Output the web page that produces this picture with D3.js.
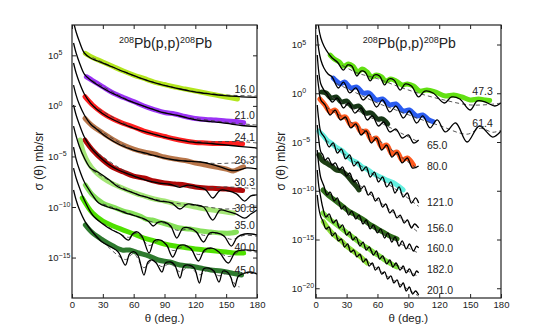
<!DOCTYPE html>
<html>
<head>
<meta charset="utf-8">
<script src="https://cdn.jsdelivr.net/npm/d3@7"></script>
<style>
  body { margin: 0; background: #fff; }
  text { font-family: "Liberation Sans", Arial, sans-serif; fill: #222; }
</style>
</head>
<body>
<div id="viz"></div>
<script>
// values are [theta (deg), log10(sigma)]

// ---- left panel: 16.0 ... 45.0 MeV
var leftLabels = ["16.0", "21.0", "24.1", "26.3", "30.3", "30.8", "35.0", "40.0", "45.0"];
var leftColors = ["#b3e61e", "#9b33f5", "#ff1f1f", "#b8764a", "#b00808", "#a4e676", "#86e05a", "#4fe000", "#2e7a2e"];
var leftLabelLog = [1.67, -0.90, -3.08, -5.35, -7.53, -10.10, -11.78, -13.96, -16.23];

var leftTheory = [
  [[1.5,8.29],[4,7.31],[7,6.42],[12,5.23],[18,4.73],[25,4.44],[35,4.04],[45,3.60],[55,3.20],[65,2.80],[75,2.46],[85,2.16],[95,1.90],[105,1.67],[115,1.47],[125,1.30],[135,1.17],[145,1.04],[155,0.96],[165,0.90],[180,0.85]],
  [[1.5,6.22],[4,5.23],[7,4.34],[12,3.15],[18,2.56],[25,2.06],[35,1.47],[45,0.98],[55,0.53],[65,0.14],[75,-0.21],[85,-0.56],[95,-0.80],[105,-1.00],[115,-1.25],[125,-1.45],[135,-1.55],[145,-1.65],[155,-1.79],[165,-1.94],[180,-2.06]],
  [[1.5,4.24],[4,3.25],[7,2.36],[12,1.17],[18,0.28],[25,-0.41],[35,-1.10],[47,-1.69],[60,-2.19],[75,-2.68],[90,-3.08],[105,-3.38],[120,-3.62],[135,-3.72],[150,-3.87],[165,-4.02],[180,-4.17]],
  [[1.5,2.06],[4,1.07],[7,0.18],[12,-0.90],[18,-1.79],[25,-2.39],[35,-3.18],[47,-3.87],[60,-4.37],[75,-4.76],[90,-5.16],[100,-5.35],[110,-5.45],[125,-5.55],[135,-5.75],[145,-6.05],[153,-6.34],[160,-6.39],[170,-6.14],[180,-6.24]],
  [[1.5,0.09],[4,-0.90],[7,-1.79],[12,-3.08],[18,-4.07],[25,-4.86],[35,-5.75],[45,-6.34],[55,-6.74],[65,-7.13],[75,-7.43],[85,-7.63],[95,-7.75],[105,-8.05],[113,-7.83],[122,-8.0],[130,-8.3],[137,-9.11],[144,-8.35],[152,-8.4],[160,-8.7],[168,-9.41],[174,-8.9],[180,-8.81]],
  [[1.5,-2.00],[4,-2.98],[7,-3.97],[12,-5.16],[18,-6.15],[25,-6.54],[35,-7.23],[45,-8.02],[55,-8.42],[65,-8.82],[75,-9.11],[85,-9.41],[97,-9.61],[105,-10.20],[112,-9.71],[120,-9.80],[128,-10.0],[137,-11.29],[144,-10.30],[152,-10.45],[160,-10.70],[168,-11.1],[174,-10.7],[180,-10.3]],
  [[1.5,-4.07],[4,-5.26],[7,-6.25],[12,-7.53],[18,-8.52],[26,-9.61],[35,-10.0],[45,-10.30],[55,-10.69],[62,-10.89],[68,-11.09],[74,-11.39],[79,-11.88],[84,-11.49],[90,-11.49],[96,-11.88],[102,-13.07],[108,-12.08],[115,-12.08],[121,-12.47],[128,-13.46],[134,-12.57],[141,-12.57],[148,-12.87],[155,-13.86],[161,-12.97],[168,-12.67],[175,-12.67],[180,-12.77]],
  [[1.5,-6.15],[4,-7.13],[7,-8.02],[12,-9.31],[20,-10.79],[30,-11.68],[39,-12.28],[47,-12.67],[55,-13.27],[59,-12.67],[63,-12.45],[68,-12.87],[75,-14.55],[80,-13.36],[86,-13.27],[92,-13.76],[98,-14.95],[104,-13.86],[110,-13.76],[116,-14.16],[123,-15.34],[129,-14.26],[136,-14.06],[143,-14.45],[152,-15.54],[159,-14.45],[166,-14.26],[173,-14.26],[180,-14.35]],
  [[1.5,-8.32],[4,-9.31],[7,-10.20],[13,-11.49],[20,-12.47],[29,-13.43],[38,-13.96],[45,-14.45],[52,-15.74],[56,-14.65],[60,-14.42],[64,-14.75],[70,-16.73],[74,-15.44],[78,-15.24],[82,-15.54],[87.5,-16.43],[91,-15.54],[96,-15.44],[100,-15.74],[105,-17.02],[109,-15.84],[114,-15.74],[119,-16.04],[124,-17.52],[128,-16.13],[133,-16.04],[138,-16.33],[143,-17.42],[147,-16.33],[151,-16.43],[154,-16.83],[158,-17.91],[162,-16.83],[168,-16.53],[174,-16.43],[180,-16.63]]
];

var leftExp = [
  [[13,5.20],[20,4.78],[30,4.34],[40,3.89],[50,3.45],[60,3.05],[70,2.71],[80,2.36],[90,2.11],[100,1.87],[110,1.67],[120,1.47],[130,1.27],[140,1.07],[150,0.88],[161,0.68]],
  [[14,2.88],[20,2.51],[30,1.87],[40,1.27],[50,0.83],[60,0.43],[70,-0.01],[80,-0.36],[90,-0.66],[100,-0.80],[110,-1.05],[120,-1.25],[130,-1.35],[140,-1.40],[150,-1.50],[160,-1.55],[167,-1.66]],
  [[12.6,0.91],[20,0.09],[30,-0.71],[40,-1.30],[50,-1.74],[60,-2.09],[70,-2.49],[80,-2.78],[90,-3.03],[100,-3.28],[110,-3.47],[120,-3.62],[130,-3.67],[140,-3.72],[150,-3.72],[160,-3.72],[166,-3.77]],
  [[12.6,-1.23],[20,-1.99],[30,-2.68],[40,-3.33],[50,-3.87],[60,-4.27],[70,-4.56],[80,-4.76],[90,-5.06],[100,-5.26],[110,-5.40],[120,-5.65],[130,-5.85],[140,-6.05],[150,-6.24],[157,-6.44],[163,-6.19],[167,-6.02]],
  [[12.6,-3.38],[20,-4.37],[30,-5.35],[40,-6.10],[50,-6.54],[60,-6.94],[70,-7.13],[80,-7.43],[90,-7.63],[100,-7.73],[110,-7.83],[120,-8.02],[130,-8.12],[140,-8.17],[150,-8.22],[160,-8.32],[166,-8.37]],
  [[8,-3.38],[11,-4.56],[16,-5.65],[22,-6.44],[30,-7.13],[40,-7.73],[50,-8.17],[60,-8.57],[70,-8.91],[80,-9.21],[90,-9.41],[100,-9.66],[110,-9.80],[120,-10.00],[130,-10.20],[140,-10.35],[150,-10.50],[157,-10.60]],
  [[13,-7.83],[20,-8.82],[30,-9.61],[40,-10.0],[50,-10.40],[58,-10.60],[66,-10.89],[72,-11.19],[78,-11.29],[85,-11.49],[95,-11.78],[105,-12.08],[115,-12.18],[125,-12.38],[135,-12.47],[145,-12.57],[155,-12.57],[160,-12.47]],
  [[10,-9.11],[20,-10.60],[30,-11.39],[40,-11.88],[50,-12.28],[60,-12.67],[70,-13.07],[80,-13.36],[90,-13.66],[100,-13.86],[110,-14.01],[120,-14.16],[130,-14.26],[140,-14.35],[150,-14.45],[160,-14.55],[167,-14.55]],
  [[13,-11.78],[20,-12.57],[30,-13.27],[40,-13.86],[49,-14.26],[56,-14.26],[65,-14.55],[75,-14.85],[84,-15.24],[95,-15.44],[105,-15.74],[115,-15.84],[125,-16.04],[135,-16.23],[145,-16.33],[155,-16.53],[165,-16.73]]
];

var leftDashed = [
  [[20,4.78],[60,2.98],[100,1.80],[140,1.15],[180,0.98]],
  [[20,2.5],[60,0.35],[100,-0.9],[140,-1.5],[180,-1.9]],
  [[20,0.05],[60,-2.15],[100,-3.25],[130,-3.57],[150,-3.52],[170,-3.57],[180,-3.67]],
  [[20,-1.95],[60,-4.35],[100,-5.35],[120,-5.50],[140,-5.70],[155,-5.65],[172,-5.55]],
  [[20,-4.3],[60,-6.9],[100,-7.83],[130,-8.12],[150,-8.02],[170,-8.12],[180,-8.22]],
  [[20,-6.4],[60,-8.6],[100,-9.61],[125,-9.90],[150,-10.20],[170,-10.00],[180,-9.90]],
  [[30,-9.7],[60,-10.79],[79,-11.5],[90,-11.6],[102,-12.3],[115,-12.2],[128,-12.8],[141,-12.6],[155,-13.2],[168,-12.8],[180,-12.9]],
  [[30,-11.6],[55,-13.0],[63,-12.6],[75,-13.8],[86,-13.3],[98,-14.3],[110,-13.9],[123,-14.7],[136,-14.1],[152,-14.9],[166,-14.3],[180,-14.5]],
  [[30,-13.4],[52,-15.2],[60,-14.6],[70,-16.0],[78,-15.3],[87.5,-15.9],[96,-15.6],[105,-16.4],[114,-15.9],[124,-16.7],[133,-16.2],[143,-16.8],[151,-16.6],[160,-17.8],[163,-17.9]]
];

// ---- right panel: 47.3 ... 201.0 MeV
var rightLabels = ["47.3", "61.4", "65.0", "80.0", "121.0", "156.0", "160.0", "182.0", "201.0"];
var rightColors = ["#62e012", "#2a5cf0", "#173717", "#ff5a1f", "#62efdf", "#1d3d14", "#2f6e1a", "#7ee040", "#8fe03a"];
var rightLabelLog = [0.23, -3.05, -5.31, -7.46, -11.15, -13.82, -15.92, -18.02, -20.18];
var rightLabelTheta = [172, 172, 108, 108, 108, 108, 108, 108, 108];

var rightTheory = [
  [[1.5,8.54],[3,6.69],[5,5.67],[8,4.85],[12,4.13],[16,3.61],[21,3.20],[27,2.38],[31,2.90],[35,2.79],[40,1.77],[44,2.28],[48,2.18],[53,1.26],[57,1.87],[62,1.77],[67,0.85],[71,1.46],[76,1.36],[82,0.33],[87,0.95],[93,0.74],[100,-0.38],[106,0.23],[114,0.03],[125,-1.00],[132,-0.38],[140,-0.59],[150,-1.72],[157,-0.79],[165,-0.90],[174,-1.31],[180,-1.00]],
  [[1.5,5.97],[3,4.44],[5,3.41],[8,2.59],[12,1.97],[16,1.67],[22,0.54],[27,1.15],[33,0.03],[39,0.54],[46,-0.69],[52,-0.18],[59,-1.41],[65,-0.69],[72,-1.92],[78,-1.31],[85,-2.54],[91,-1.82],[98,-3.05],[104,-2.33],[111,-3.56],[118,-2.74],[126,-3.97],[136,-3.05],[147,-5.00],[159,-3.36],[172,-4.49],[180,-3.87]],
  [[1.5,3.92],[3,2.18],[5,0.95],[8,0.33],[11,-0.08],[16,-0.90],[21,-0.49],[27,-1.51],[32,-1.00],[38,-2.03],[44,-1.51],[50,-2.74],[55,-2.33],[61,-3.36],[66,-2.95],[72,-3.97],[78,-3.67],[84,-4.59],[90,-4.28],[95,-5.10],[100,-4.79]],
  [[1.5,1.87],[3,0.54],[5,-0.69],[9,-1.20],[14,-2.23],[19,-1.72],[24,-2.74],[29,-2.44],[34,-3.56],[39,-3.15],[44,-4.28],[49,-3.87],[54,-5.10],[59,-4.59],[64,-5.82],[69,-5.31],[74,-6.54],[79,-6.03],[84,-7.15],[89,-6.64],[94,-7.67],[100,-7.46]],
  [[1.5,-1.20],[3,-2.74],[5,-3.97],[9,-4.59],[13,-5.51],[17,-5.10],[21,-6.13],[25,-5.72],[29,-6.74],[33,-6.33],[37,-7.46],[41,-7.05],[45,-7.97],[49,-7.56],[53,-8.59],[57,-8.08],[61,-9.10],[65,-8.59],[69,-9.61],[73,-9.10],[77,-10.23],[81,-9.61],[85,-10.64],[89,-10.23],[93,-11.26],[97,-10.74],[100,-11.26]],
  [[1.5,-3.26],[3,-4.79],[5,-6.03],[7,-6.33],[9,-6.85],[12,-6.64],[16,-7.36],[19,-7.15],[23,-7.87],[26,-7.56],[30,-8.49],[33,-8.18],[37,-9.10],[40,-8.90],[44,-9.82],[47,-9.51],[51,-10.44],[54,-10.13],[58,-11.05],[61,-10.74],[65,-11.67],[68,-11.36],[72,-12.28],[75,-11.97],[79,-12.79],[82,-12.49],[86,-13.31],[89,-13.00],[93,-13.82],[96,-13.41],[100,-13.82]],
  [[1.5,-5.82],[3,-7.36],[5,-8.69],[8,-9.51],[11,-10.44],[14,-10.13],[18,-11.05],[21,-10.74],[25,-11.87],[28,-11.56],[32,-12.49],[35,-12.08],[39,-12.90],[42,-12.49],[46,-13.41],[49,-13.00],[53,-13.92],[56,-13.51],[60,-14.33],[63,-13.92],[67,-14.85],[70,-14.33],[74,-15.26],[77,-14.74],[81,-15.67],[84,-15.15],[88,-15.97],[91,-15.46],[95,-16.18],[98,-15.67],[100,-15.87]],
  [[1.5,-7.87],[3,-9.51],[5,-10.74],[7,-11.77],[10,-12.69],[13,-12.38],[17,-13.31],[20,-13.00],[23,-13.82],[26,-13.51],[30,-14.54],[33,-14.23],[36,-15.05],[39,-14.74],[43,-15.67],[46,-15.26],[49,-16.08],[52,-15.77],[56,-16.59],[59,-16.18],[62,-17.00],[65,-16.69],[69,-17.51],[72,-17.10],[75,-17.82],[78,-17.41],[82,-18.13],[85,-17.72],[88,-18.43],[91,-18.02],[95,-18.74],[98,-18.23],[100,-18.43]],
  [[1.5,-10.44],[3,-11.77],[5,-12.69],[7,-13.10],[10,-13.92],[13,-13.72],[16,-14.64],[19,-14.33],[22,-15.15],[25,-14.95],[28,-15.77],[31,-15.46],[34,-16.28],[37,-16.08],[40,-16.79],[43,-16.49],[46,-17.31],[49,-17.00],[52,-17.72],[55,-17.41],[58,-18.13],[61,-17.82],[64,-18.54],[67,-18.33],[70,-19.05],[73,-18.74],[76,-19.46],[79,-19.15],[82,-19.87],[85,-19.46],[88,-20.28],[91,-19.87],[94,-20.59],[97,-20.28],[100,-20.69]]
];

var rightExp = [
  [[14,3.92],[18,3.51],[23,3.20],[27,2.79],[32,3.00],[36,2.79],[41,2.18],[45,2.49],[50,2.18],[54,1.67],[59,1.87],[64,1.67],[68,1.26],[73,1.46],[78,1.26],[84,0.85],[89,0.95],[95,0.74],[101,0.23],[108,0.33],[116,0.13],[126,-0.28],[134,-0.18],[142,-0.38],[150,-0.69],[158,-0.59],[165,-0.69],[169,-0.74]],
  [[17,1.56],[20,1.26],[24,0.95],[28,1.15],[34,0.54],[40,0.64],[46,0.03],[52,0.03],[59,-0.69],[65,-0.59],[72,-1.20],[78,-1.10],[85,-1.82],[91,-1.72],[98,-2.33],[104,-2.23],[110,-2.74],[114,-2.92]],
  [[6,0.13],[10,0.03],[15,-0.49],[20,-0.38],[25,-0.90],[30,-0.79],[36,-1.41],[42,-1.31],[48,-2.03],[54,-2.03],[60,-2.64],[65,-2.64],[70,-3.15]],
  [[4,-0.59],[9,-1.20],[14,-1.9],[19,-1.72],[24,-2.45],[29,-2.44],[34,-3.25],[39,-3.15],[44,-3.95],[49,-3.87],[54,-4.75],[59,-4.59],[64,-5.5],[69,-5.31],[74,-6.2],[79,-6.03],[84,-6.85],[89,-6.64],[95,-7.36]],
  [[3,-3.9],[7,-4.3],[11,-4.8],[15,-5.1],[20,-5.55],[25,-5.85],[30,-6.35],[35,-6.85],[40,-7.1],[45,-7.55],[50,-7.8],[55,-8.2],[60,-8.45],[65,-8.7],[70,-8.95],[75,-9.15],[80,-9.5],[85,-9.92]],
  [[3,-6.33],[6,-6.85],[10,-7.15],[15,-7.46],[20,-7.87],[25,-7.97],[30,-8.38],[35,-9.0],[40,-9.61],[42,-9.92]],
  [[7,-9.92],[12,-10.44],[17,-10.85],[22,-11.26],[27,-11.67],[32,-12.08],[37,-12.38],[42,-12.69],[47,-13.00],[52,-13.41],[57,-13.72],[62,-14.03],[67,-14.33],[72,-14.64],[77,-14.85],[79,-14.95]],
  [[7,-12.28],[12,-12.79],[17,-13.20],[22,-13.61],[27,-14.03],[32,-14.44],[37,-14.85],[42,-15.26],[47,-15.67],[52,-15.97],[57,-16.38],[62,-16.69],[67,-17.10],[72,-17.41],[77,-17.72],[79,-17.82]],
  [[7.4,-13.17],[11,-13.72],[15,-14.23],[20,-14.74],[25,-15.15],[30,-15.67],[35,-16.08],[40,-16.49],[45,-16.90],[50,-17.41]]
];

var rightDashed = [
  [[20,3.2],[40,2.1],[60,1.5],[80,0.7],[100,0.0],[125,-0.7],[150,-1.2],[174,-1.1],[180,-1.0]],
  [[20,1.0],[40,0.0],[60,-1.0],[80,-1.8],[100,-2.6],[120,-3.3],[147,-4.2],[160,-3.6],[172,-4.0],[180,-3.8]],
  [[10,-0.1],[30,-1.2],[50,-2.3],[70,-3.4],[85,-4.2],[100,-5.0]],
  [[10,-1.4],[30,-2.7],[50,-4.0],[70,-5.5],[85,-6.7],[100,-7.8]],
  [[10,-4.8],[30,-6.4],[50,-7.9],[70,-9.3],[85,-10.4],[100,-11.6]],
  [[10,-6.8],[30,-8.3],[50,-10.1],[70,-11.8],[85,-13.0],[100,-14.3]],
  [[10,-10.2],[30,-12.0],[50,-13.4],[70,-14.6],[85,-15.6],[100,-16.4]],
  [[10,-12.5],[30,-14.3],[50,-15.9],[70,-17.2],[85,-18.0],[100,-18.8]],
  [[10,-13.8],[30,-15.6],[50,-17.2],[70,-18.8],[85,-19.8],[100,-20.8]]
];

var xTicks = [0, 30, 60, 90, 120, 150, 180];
var leftYTicks = [5, 0, -5, -10, -15];
var rightYTicks = [5, 0, -5, -10, -15, -20];

var w = 554, h = 336;
var yTop = 25, yBottom = 298;

var svg = d3.select("div#viz")
  .append("svg")
  .attr("width", w)
  .attr("height", h);

var drawPanel = function(p) {
  var x = d3.scaleLinear().domain([0, 180]).range([p.left, p.right]);
  var y = d3.scaleLog().domain([Math.pow(10, p.logMin), Math.pow(10, p.logMax)]).range([yBottom, yTop]);

  svg.append("clipPath").attr("id", "clip" + p.id)
    .append("rect")
    .attr("x", p.left).attr("y", yTop)
    .attr("width", p.right - p.left).attr("height", yBottom - yTop);

  var line = d3.line()
    .x(function(d) { return x(d[0]); })
    .y(function(d) { return y(Math.pow(10, d[1])); })
    .curve(d3.curveCatmullRom.alpha(0.5));

  var plot = svg.append("g").attr("clip-path", "url(#clip" + p.id + ")");

  // measured data as thick coloured bands
  p.exp.forEach(function(d, i) {
    plot.append("path")
      .attr("d", line(d))
      .attr("fill", "none")
      .attr("stroke", p.colors[i])
      .attr("stroke-width", 5)
      .attr("stroke-linecap", "round")
      .attr("stroke-linejoin", "round");
  });

  p.dashed.forEach(function(d) {
    plot.append("path")
      .attr("d", line(d))
      .attr("fill", "none")
      .attr("stroke", "#444")
      .attr("stroke-width", 0.9)
      .attr("stroke-dasharray", "4,3");
  });

  p.theory.forEach(function(d) {
    plot.append("path")
      .attr("d", line(d))
      .attr("fill", "none")
      .attr("stroke", "#000")
      .attr("stroke-width", 1.3);
  });

  // energy labels
  p.labels.forEach(function(t, i) {
    svg.append("text")
      .attr("x", x(p.labelTheta[i]))
      .attr("y", y(Math.pow(10, p.labelLog[i])))
      .attr("dy", "0.35em")
      .attr("text-anchor", p.labelTheta[i] > 150 ? "end" : "start")
      .style("font-size", "10.5px")
      .text(t);
  });

  // axes, ticks pointing inwards on all four sides
  var xb = svg.append("g")
    .attr("transform", "translate(0," + yBottom + ")")
    .call(d3.axisBottom(x).tickValues(xTicks).tickSize(-4).tickSizeOuter(0).tickPadding(3).tickFormat(d3.format("d")));
  var xt = svg.append("g")
    .attr("transform", "translate(0," + yTop + ")")
    .call(d3.axisTop(x).tickValues(xTicks).tickSize(-4).tickSizeOuter(0).tickFormat(""));
  var tickVals = p.yTicks.map(function(e) { return Math.pow(10, e); });
  var yl = svg.append("g")
    .attr("transform", "translate(" + p.left + ",0)")
    .call(d3.axisLeft(y).tickValues(tickVals).tickSize(-4).tickSizeOuter(0));
  var yr = svg.append("g")
    .attr("transform", "translate(" + p.right + ",0)")
    .call(d3.axisRight(y).tickValues(tickVals).tickSize(-4).tickSizeOuter(0).tickFormat(""));

  [xb, xt, yl, yr].forEach(function(a) {
    a.select(".domain").remove();
    a.selectAll(".tick line").attr("stroke", "#222");
    a.selectAll("text").style("font-size", "9.5px").attr("fill", "#222");
  });

  yl.selectAll(".tick text").each(function(v) {
    var e = Math.round(Math.log10(v));
    var t = d3.select(this).text(null).attr("x", -24).attr("text-anchor", "start");
    t.append("tspan").text("10");
    t.append("tspan").attr("dy", "-0.5em").style("font-size", "7px")
      .text(e < 0 ? "\u2212" + (-e) : String(e));
  });

  svg.append("rect")
    .attr("x", p.left).attr("y", yTop)
    .attr("width", p.right - p.left).attr("height", yBottom - yTop)
    .attr("fill", "none").attr("stroke", "#222").attr("stroke-width", 1.2);

  var cx = (p.left + p.right) / 2;
  var title = svg.append("text")
    .attr("x", cx + 1).attr("y", 48)
    .attr("text-anchor", "middle")
    .style("font-size", "14px");
  title.append("tspan").attr("dy", "-5").style("font-size", "9px").text("208");
  title.append("tspan").attr("dy", "5").text("Pb(p,p)");
  title.append("tspan").attr("dy", "-5").style("font-size", "9px").text("208");
  title.append("tspan").attr("dy", "5").text("Pb");

  svg.append("text")
    .attr("x", cx).attr("y", 321.5)
    .attr("text-anchor", "middle")
    .style("font-size", "11.5px")
    .text("\u03b8 (deg.)");

  svg.append("text")
    .attr("transform", "translate(" + p.ylabelX + "," + 161 + ")rotate(-90)")
    .attr("dy", "0.35em")
    .attr("text-anchor", "middle")
    .style("font-size", "12px")
    .text("\u03c3 (\u03b8) mb/sr");
};

drawPanel({
  id: "L", left: 72, right: 257, logMin: -19, logMax: 8, ylabelX: 39,
  yTicks: leftYTicks, theory: leftTheory, exp: leftExp, dashed: leftDashed,
  colors: leftColors, labels: leftLabels, labelLog: leftLabelLog,
  labelTheta: leftLabels.map(function() { return 178; })
});

drawPanel({
  id: "R", left: 315.7, right: 501, logMin: -21, logMax: 7, ylabelX: 281,
  yTicks: rightYTicks, theory: rightTheory, exp: rightExp, dashed: rightDashed,
  colors: rightColors, labels: rightLabels, labelLog: rightLabelLog,
  labelTheta: rightLabelTheta
});
</script>
</body>
</html>
